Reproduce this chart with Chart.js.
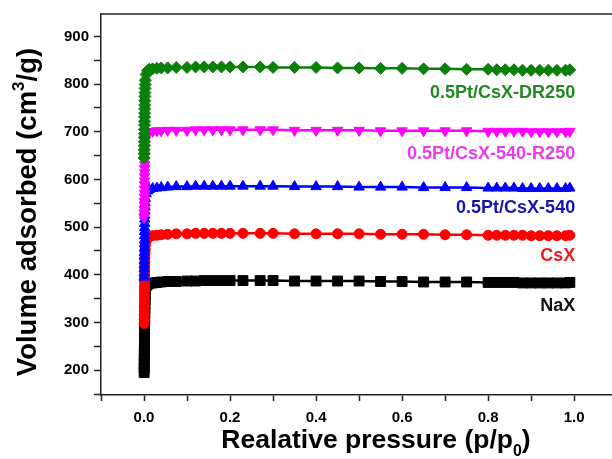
<!DOCTYPE html>
<html>
<head>
<meta charset="utf-8">
<script src="https://cdn.jsdelivr.net/npm/chart.js@4.4.0/dist/chart.umd.min.js"></script>
<style>
  body { margin: 0; background: #fff; overflow: hidden; }
  #wrap { width: 612px; height: 459px; }
</style>
</head>
<body>
<div id="wrap"><canvas id="myChart" width="612" height="459"></canvas></div>
<script>
// N2 isotherms, relative pressure on x, volume adsorbed on y
const pressure = [
  0.0003, 0.0004, 0.0005, 0.0006, 0.0007, 0.0008, 0.0009, 0.001, 0.0011, 0.0012,
  0.0013, 0.0014, 0.0015, 0.0016, 0.0018, 0.002, 0.0022, 0.0025, 0.0028, 0.0032,
  0.005, 0.008, 0.012,
  0.02, 0.03, 0.04, 0.055, 0.075, 0.1, 0.12, 0.14, 0.16, 0.18, 0.2,
  0.23, 0.27, 0.3, 0.35, 0.4, 0.45, 0.5, 0.55, 0.6, 0.65, 0.7, 0.75,
  0.8, 0.82, 0.84, 0.86, 0.88, 0.9, 0.92, 0.94, 0.96, 0.98, 0.99
]

const naX = [
  195, 204, 213, 222, 231, 240, 249, 258, 267, 276,
  285, 294, 303, 312, 321, 330, 339, 348, 358, 369,
  377, 380, 382,
  383, 384, 385, 386, 386, 387, 387, 388, 388, 388, 388,
  388, 388, 388, 387, 387, 387, 387, 386, 386, 385, 385, 385,
  384, 384, 384, 384, 383, 383, 383, 383, 383, 383, 384
]
const csX = [
  298, 307, 316, 324, 333, 342, 350, 359, 368, 376,
  385, 394, 402, 411, 420, 428, 437, 446, 454, 463,
  472, 477, 480,
  482, 483, 484, 485, 486, 486, 487, 487, 487, 487, 487,
  487, 487, 487, 486, 486, 486, 486, 485, 485, 485, 484, 484,
  483, 483, 483, 483, 483, 482, 482, 482, 482, 482, 483
]
const pt540 = [
  395, 404, 413, 421, 430, 439, 447, 456, 465, 473,
  482, 491, 499, 508, 517, 525, 534, 543, 551, 560,
  570, 576, 579,
  581, 582, 583, 584, 585, 585, 586, 586, 586, 586, 586,
  586, 586, 586, 585, 585, 585, 584, 584, 584, 583, 583, 583,
  582, 582, 582, 582, 581, 581, 581, 581, 581, 581, 582
]
const pt540R250 = [
  520, 529, 537, 546, 554, 563, 571, 580, 589, 597,
  606, 614, 623, 631, 640, 649, 657, 666, 674, 683,
  692, 698, 700,
  701, 702, 702, 703, 703, 703, 704, 704, 704, 704, 704,
  704, 704, 704, 703, 703, 703, 703, 702, 702, 702, 702, 702,
  701, 701, 701, 701, 701, 700, 700, 700, 700, 700, 701
]
const ptDR250 = [
  645, 654, 662, 671, 679, 688, 696, 705, 714, 722,
  731, 739, 748, 756, 765, 774, 782, 791, 799, 808,
  820, 828, 831,
  832, 833, 834, 834, 835, 835, 836, 836, 836, 836, 836,
  836, 836, 835, 835, 835, 834, 834, 833, 833, 832, 832, 831,
  831, 830, 830, 830, 829, 829, 829, 829, 829, 829, 830
]

const xTicks = [-0.1, 0, 0.1, 0.2, 0.3, 0.4, 0.5, 0.6, 0.7, 0.8, 0.9, 1.0]
const yTicks = [150, 200, 250, 300, 350, 400, 450, 500, 550, 600, 650, 700, 750, 800, 850, 900]

// labels written beside each curve (text, value on y axis, colour)
const curveLabels = [
  ['0.5Pt/CsX-DR250', 782, '#1f8a1f'],
  ['0.5Pt/CsX-540-R250', 654, '#e83ee8'],
  ['0.5Pt/CsX-540', 541, '#1515b0'],
  ['CsX', 440, '#e82020'],
  ['NaX', 334, '#111111'],
]

const toPoints = (vals) => vals.map((v, i) => ({ x: pressure[i], y: v }))

function makeSet(label, vals, color, style, radius, rotation) {
  return {
    label: label,
    data: toPoints(vals),
    showLine: true,
    borderColor: color,
    backgroundColor: color,
    borderWidth: 2.5,
    pointStyle: style,
    pointRadius: radius,
    pointRotation: rotation || 0,
    pointBorderWidth: 1,
    pointBorderColor: color,
    pointBackgroundColor: color,
  }
}

const FONT = "'Liberation Sans', Arial, sans-serif"

// Curve labels and axis titles drawn after the chart
const textPlugin = {
  id: 'texts',
  afterDraw(chart) {
    const ctx = chart.ctx
    const xs = chart.scales.x
    const ys = chart.scales.y
    const area = chart.chartArea
    ctx.save()

    // top frame line
    ctx.strokeStyle = '#222'
    ctx.lineWidth = 1.5
    ctx.beginPath()
    ctx.moveTo(area.left, area.top)
    ctx.lineTo(area.right, area.top)
    ctx.stroke()

    ctx.font = 'bold 18px ' + FONT
    ctx.textAlign = 'right'
    ctx.textBaseline = 'middle'
    curveLabels.forEach((c) => {
      ctx.fillStyle = c[2]
      ctx.fillText(c[0], xs.getPixelForValue(1.0) + 1, ys.getPixelForValue(c[1]))
    })

    // x title with subscript
    ctx.fillStyle = '#000'
    ctx.textAlign = 'left'
    ctx.textBaseline = 'alphabetic'
    let big = 'bold 26.5px ' + FONT
    let small = 'bold 16px ' + FONT
    const t1 = 'Realative pressure (p/p'
    ctx.font = big
    const w1 = ctx.measureText(t1).width
    ctx.font = small
    const w2 = ctx.measureText('0').width
    ctx.font = big
    const w3 = ctx.measureText(')').width
    let x0 = 376 - (w1 + w2 + w3) / 2
    const base = 448
    ctx.fillText(t1, x0, base)
    ctx.font = small
    ctx.fillText('0', x0 + w1, base + 8)
    ctx.font = big
    ctx.fillText(')', x0 + w1 + w2, base)

    // y title with superscript
    big = 'bold 27.5px ' + FONT
    small = 'bold 17px ' + FONT
    ctx.translate(36, 212)
    ctx.rotate(-Math.PI / 2)
    const a = 'Volume adsorbed (cm'
    const b = '/g)'
    ctx.font = big
    const wa = ctx.measureText(a).width
    const wb = ctx.measureText(b).width
    ctx.font = small
    const ws = ctx.measureText('3').width
    const y0 = -(wa + ws + wb) / 2
    ctx.font = big
    ctx.fillText(a, y0, 0)
    ctx.font = small
    ctx.fillText('3', y0 + wa, -12)
    ctx.font = big
    ctx.fillText(b, y0 + wa + ws, 0)
    ctx.restore()
  },
}

const ctx = document.getElementById('myChart').getContext('2d')

const chart = new Chart(ctx, {
  type: 'scatter',
  data: {
    // first in the list is drawn on top
    datasets: [
      makeSet('0.5Pt/CsX-DR250', ptDR250, '#0a800a', 'rectRot', 6),
      makeSet('0.5Pt/CsX-540-R250', pt540R250, '#ff00ff', 'triangle', 6, 180),
      makeSet('0.5Pt/CsX-540', pt540, '#0000ff', 'triangle', 6),
      makeSet('CsX', csX, '#ff0000', 'circle', 5),
      makeSet('NaX', naX, '#000000', 'rect', 7),
    ],
  },
  options: {
    responsive: false,
    animation: false,
    layout: { autoPadding: false, padding: { top: 13, right: 0, left: 0, bottom: 0 } },
    plugins: {
      legend: { display: false },
      tooltip: { enabled: false },
    },
    scales: {
      x: {
        type: 'linear',
        min: -0.1,
        max: 1.088,
        afterBuildTicks: (s) => {
          s.ticks = xTicks.map((v) => ({ value: v }))
        },
        afterFit: (s) => {
          s.height = 64
        },
        border: { display: true, color: '#222', width: 1.5 },
        grid: {
          drawOnChartArea: false,
          drawTicks: true,
          tickLength: 6,
          tickColor: '#222',
          tickWidth: 1.5,
        },
        ticks: {
          color: '#000',
          padding: 8,
          font: { family: FONT, size: 15, weight: 'bold' },
          callback: (v) => {
            const k = Math.round(v * 10)
            return k >= 0 && k % 2 === 0 ? (k / 10).toFixed(1) : ''
          },
        },
      },
      y: {
        type: 'linear',
        min: 148,
        max: 947,
        afterBuildTicks: (s) => {
          s.ticks = yTicks.map((v) => ({ value: v }))
        },
        afterFit: (s) => {
          s.width = 101
        },
        border: { display: true, color: '#222', width: 1.5 },
        grid: {
          drawOnChartArea: false,
          drawTicks: true,
          tickLength: 7,
          tickColor: '#222',
          tickWidth: 1.5,
        },
        ticks: {
          color: '#000',
          padding: 5,
          font: { family: FONT, size: 15, weight: 'bold' },
          callback: (v) => (v % 100 === 0 ? String(v) : ''),
        },
      },
    },
  },
  plugins: [textPlugin],
})
</script>
</body>
</html>
